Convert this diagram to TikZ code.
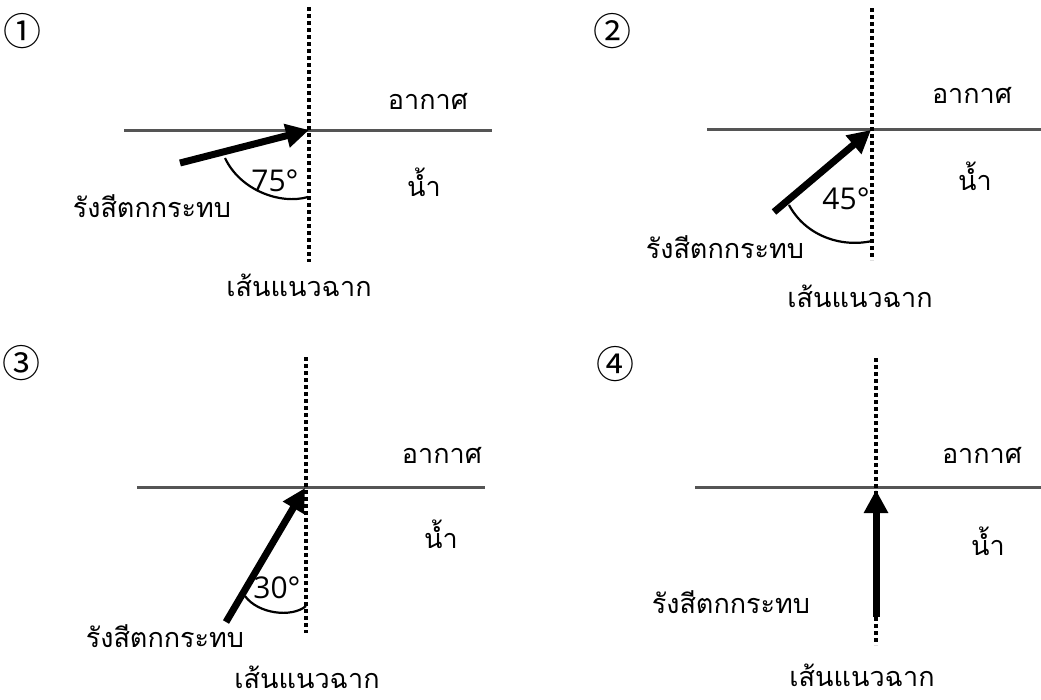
\documentclass[tikz,border=0pt]{standalone}
\usepackage{fontspec}
\setmainfont{Open Sans}
\newfontfamily\thaifont[Script=Thai]{Loma}
\newfontfamily\circfont{Noto Sans CJK JP}
\usepackage{tikz}
\usetikzlibrary{arrows.meta}
\definecolor{surfgray}{RGB}{85,85,85}
\tikzset{
  surf/.style={draw=surfgray,line width=3pt},
  normline/.style={draw=black,line width=3.5pt,dash pattern=on 4pt off 3pt},
  ray/.style={-{Triangle[length=23pt,width=23pt]},line width=7pt,black},
  anglearc/.style={draw=black,line width=2.2pt},
  thlbl/.style={font=\thaifont\fontsize{27}{32}\selectfont,anchor=base,inner sep=0pt},
  deglbl/.style={font=\fontsize{30}{35}\selectfont,anchor=base,inner sep=0pt},
  numlbl/.style={font=\circfont\fontsize{38}{44}\selectfont,inner sep=0pt}
}

\begin{document}
\begin{tikzpicture}[x=1pt,y=-1pt]
  \useasboundingbox (0,0) rectangle (1041,699);

  % panel 1: 75 degrees
  \node[numlbl] (num1) at (22,31) {①};
  \coordinate (o1) at (309,130);
  \coordinate (n1t) at (309,7);   \coordinate (n1b) at (309,262);
  \coordinate (s1l) at (124,130); \coordinate (s1r) at (492,130);
  \coordinate (r1) at (180,163);
  \draw[surf] (s1l) -- (s1r);
  \draw[normline] (n1t) -- (n1b);
  \draw[ray] (r1) -- (o1);
  \draw[anglearc] (225,158) .. controls (240,190) and (280,205) .. (308,197);
  \node[deglbl] (deg1) at (275,191) {75°};
  \node[thlbl] (air1) at (428,109) {อากาศ};
  \node[thlbl] (water1) at (424,196) {น้ำ};
  \node[thlbl] (inc1) at (152,217) {รังสีตกกระทบ};
  \node[thlbl] (nor1) at (299,296) {เส้นแนวฉาก};

  % panel 2: 45 degrees
  \node[numlbl] (num2) at (612,31) {②};
  \coordinate (o2) at (871,130);
  \coordinate (n2t) at (872,8);   \coordinate (n2b) at (872,260);
  \coordinate (s2l) at (707,129); \coordinate (s2r) at (1041,129);
  \coordinate (r2) at (774,212);
  \draw[surf] (s2l) -- (s2r);
  \draw[normline] (n2t) -- (n2b);
  \draw[ray] (r2) -- (o2);
  \draw[anglearc] (789,205) .. controls (805,235) and (840,248) .. (872,241);
  \node[deglbl] (deg2) at (846,209) {45°};
  \node[thlbl] (air2) at (972,103) {อากาศ};
  \node[thlbl] (water2) at (975,190) {น้ำ};
  \node[thlbl] (inc2) at (725,258) {รังสีตกกระทบ};
  \node[thlbl] (nor2) at (860,307) {เส้นแนวฉาก};

  % panel 3: 30 degrees
  \node[numlbl] (num3) at (21,363) {③};
  \coordinate (o3) at (305,488);
  \coordinate (n3t) at (306,357); \coordinate (n3b) at (306,633);
  \coordinate (s3l) at (137,487); \coordinate (s3r) at (485,487);
  \coordinate (r3) at (226,622);
  \draw[surf] (s3l) -- (s3r);
  \draw[normline] (n3t) -- (n3b);
  \draw[ray] (r3) -- (o3);
  \draw[anglearc] (245,596) .. controls (258,614) and (292,618) .. (306,606);
  \node[deglbl] (deg3) at (277,598) {30°};
  \node[thlbl] (air3) at (442,463) {อากาศ};
  \node[thlbl] (water3) at (441,548) {น้ำ};
  \node[thlbl] (inc3) at (165,647) {รังสีตกกระทบ};
  \node[thlbl] (nor3) at (307,688) {เส้นแนวฉาก};

  % panel 4: along the normal
  \node[numlbl] (num4) at (615,364) {④};
  \coordinate (o4) at (876,490);
  \coordinate (n4t) at (876,358); \coordinate (n4b) at (876,645);
  \coordinate (s4l) at (695,487); \coordinate (s4r) at (1041,487);
  \coordinate (r4) at (876,617);
  \draw[surf] (s4l) -- (s4r);
  \draw[normline] (n4t) -- (n4b);
  \draw[ray] (r4) -- (o4);
  \node[thlbl] (air4) at (982,463) {อากาศ};
  \node[thlbl] (water4) at (988,555) {น้ำ};
  \node[thlbl] (inc4) at (731,613) {รังสีตกกระทบ};
  \node[thlbl] (nor4) at (862,686) {เส้นแนวฉาก};
\end{tikzpicture}
\end{document}
